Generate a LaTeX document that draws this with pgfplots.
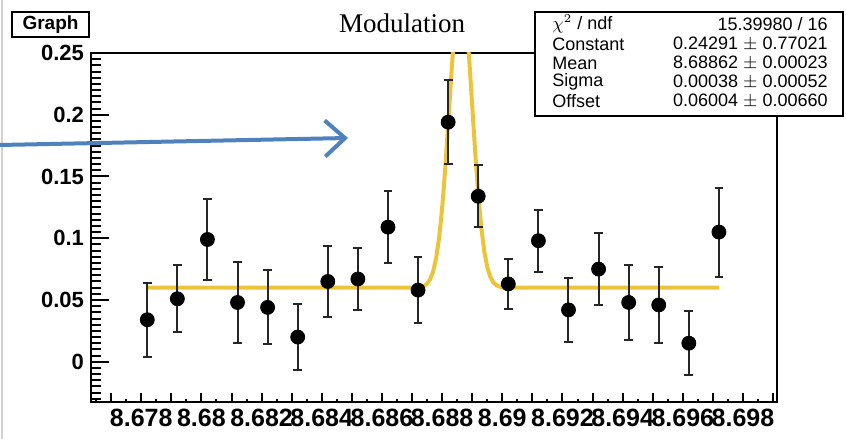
\documentclass[border=0pt]{standalone}
\usepackage{fontspec}
\setmainfont{Liberation Sans}
\newfontfamily\titlefont{Liberation Serif}
\usepackage{pgfplots}
\pgfplotsset{compat=1.18}
\usetikzlibrary{arrows.meta}
\definecolor{fitgold}{RGB}{236,196,58}
\definecolor{arrowblue}{RGB}{79,129,189}

\pgfplotstableread{
x      y     e
8.6782 0.034 0.030
8.6792 0.051 0.027
8.6802 0.099 0.033
8.6812 0.048 0.033
8.6822 0.044 0.030
8.6832 0.020 0.027
8.6842 0.065 0.029
8.6852 0.067 0.025
8.6862 0.109 0.029
8.6872 0.058 0.027
8.6882 0.194 0.034
8.6892 0.134 0.025
8.6902 0.063 0.020
8.6912 0.098 0.025
8.6922 0.042 0.026
8.6932 0.075 0.029
8.6942 0.048 0.030
8.6952 0.046 0.031
8.6962 0.015 0.026
8.6972 0.105 0.036
}\modulation

\begin{document}
\begin{tikzpicture}[x=0.5pt,y=0.5pt]
\useasboundingbox (0,0) rectangle (846,439);
\draw[gray!35, line width=0.6pt] (2,0) -- (2,439);
\begin{axis}[
  at={(45.5pt,18.5pt)}, anchor=south west,
  scale only axis, width=343pt, height=174.5pt,
  xmin=8.67633, xmax=8.69913, ymin=-0.0326, ymax=0.25,
  axis line style={line width=1pt},
  xtick pos=bottom, ytick pos=left,
  xtick={8.678,8.680,8.682,8.684,8.686,8.688,8.690,8.692,8.694,8.696,8.698},
  minor xtick={8.6765,8.6775,8.6785,8.6795,8.6805,8.6815,8.6825,8.6835,8.6845,
               8.6855,8.6865,8.6875,8.6885,8.6895,8.6905,8.6915,8.6925,8.6935,
               8.6945,8.6955,8.6965,8.6975,8.6985},
  extra x ticks={8.677,8.679,8.681,8.683,8.685,8.687,8.689,8.691,8.693,8.695,8.697,8.699},
  extra x tick labels={},
  extra x tick style={/pgfplots/major tick length=3pt},
  ytick={0,0.05,0.1,0.15,0.2,0.25},
  minor ytick={-0.03,-0.025,-0.02,-0.015,-0.01,-0.005,0.005,0.01,0.015,0.02,
               0.025,0.03,0.035,0.04,0.045,0.055,0.06,0.065,0.07,0.075,0.08,
               0.085,0.09,0.095,0.105,0.11,0.115,0.12,0.125,0.13,0.135,0.14,
               0.145,0.155,0.16,0.165,0.17,0.175,0.18,0.185,0.19,0.195,0.205,
               0.21,0.215,0.22,0.225,0.23,0.235,0.24,0.245},
  major tick length=9pt, minor tick length=5pt,
  x tick style={/pgfplots/major tick length=4.5pt,/pgfplots/minor tick length=1.5pt},
  tick style={black, line width=1pt},
  scaled x ticks=false, scaled y ticks=false,
  /pgf/number format/assume math mode=true,
  tick label style={font=\fontsize{11}{13}\selectfont\bfseries},
  x tick label style={font=\fontsize{12.5}{14}\selectfont\bfseries,
    /pgf/number format/.cd, fixed, precision=3},
  y tick label style={/pgf/number format/.cd, fixed, precision=2},
]
% fitted gaussian + offset, values listed point by point
\addplot[fitgold, line width=2pt, line join=round] coordinates {
  (8.6782,0.0600) (8.6870,0.0600) (8.6872,0.0602) (8.6873,0.0606)
  (8.6874,0.0614) (8.6875,0.0632) (8.6876,0.0667) (8.6877,0.0730)
  (8.6878,0.0837) (8.6879,0.1004) (8.6880,0.1242) (8.6881,0.1553)
  (8.6882,0.1919) (8.6883,0.2304) (8.6884,0.2655) (8.6885,0.2912)
  (8.6886,0.3026) (8.6887,0.2976) (8.6888,0.2772) (8.6889,0.2452)
  (8.6890,0.2074) (8.6891,0.1694) (8.6892,0.1358) (8.6893,0.1090)
  (8.6894,0.0896) (8.6895,0.0767) (8.6896,0.0688) (8.6897,0.0643)
  (8.6898,0.0620) (8.6899,0.0609) (8.6900,0.0604) (8.6902,0.0600)
  (8.6972,0.0600)};
\addplot[only marks, mark=*, mark size=3.5pt, black,
  error bars/.cd, y dir=both, y explicit,
  error bar style={line width=1pt, black!85},
  error mark options={rotate=90, line width=1pt, mark size=2.2pt, black!85}]
  table[x=x, y=y, y error=e] {\modulation};
\end{axis}
% title and boxes
\node[font=\titlefont\fontsize{13.5}{15}\selectfont] at (402,416) {Modulation};
\draw[line width=1pt, fill=white] (12,402) rectangle (89,427);
\node[font=\fontsize{9.5}{11}\selectfont\bfseries] at (50.5,414.5) {Graph};
\filldraw[fill=white, draw=black, line width=1pt] (535,427) rectangle (843,323);
\begin{scope}[every node/.style={font=\fontsize{9}{10}\selectfont, inner sep=0pt}]
\node[anchor=west] at (552,415) {$\chi^{2}$ / ndf};
\node[anchor=east] at (828,415) {15.39980 / 16};
\node[anchor=west] at (552,395) {Constant};
\node[anchor=east] at (828,395) {0.24291 $\pm$ 0.77021};
\node[anchor=west] at (552,376) {Mean};
\node[anchor=east] at (828,376) {8.68862 $\pm$ 0.00023};
\node[anchor=west] at (552,357) {Sigma};
\node[anchor=east] at (828,357) {0.00038 $\pm$ 0.00052};
\node[anchor=west] at (552,338) {Offset};
\node[anchor=east] at (828,338) {0.06004 $\pm$ 0.00660};
\end{scope}
% annotation arrow
\draw[arrowblue, line width=2pt, -{Straight Barb[length=10pt,width=18pt]}]
  (0,294) -- (348,301);
\end{tikzpicture}
\end{document}
